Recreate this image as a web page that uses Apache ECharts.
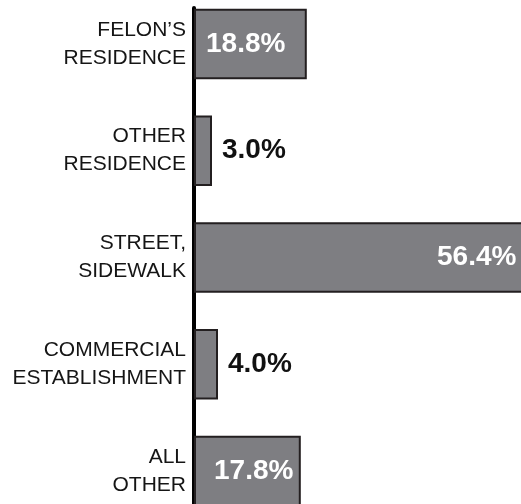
<!DOCTYPE html>
<html>
<head>
<meta charset="utf-8">
<style>
  html, body { margin: 0; padding: 0; background: #ffffff; }
  #chart { width: 521px; height: 504px; }
</style>
<script src="https://cdn.jsdelivr.net/npm/echarts@6/dist/echarts.min.js"></script>
</head>
<body>
<div id="chart"></div>
<script>
// Locations where the offense took place (share of cases, %)
const categories = [
  'FELON\u2019S\nRESIDENCE',
  'OTHER\nRESIDENCE',
  'STREET,\nSIDEWALK',
  'COMMERCIAL\nESTABLISHMENT',
  'ALL\nOTHER'
];
const shares = [18.8, 3.0, 56.4, 4.0, 17.8];

const FONT = '"Liberation Sans", Arial, Helvetica, sans-serif';

// Large bars carry their value inside in white, short bars get it to the right in black.
function valueLabel(v, i) {
  const base = {
    show: true,
    formatter: (p) => p.value.toFixed(1) + '%',
    fontFamily: FONT,
    fontWeight: 'bold',
    fontSize: 28,
    verticalAlign: 'middle'
  };
  if (v >= 50) return Object.assign(base, { position: 'insideRight', distance: 16, color: '#ffffff' });
  if (v >= 10) return Object.assign(base, { position: 'insideLeft', distance: i === 0 ? 12 : 20, color: '#ffffff' });
  return Object.assign(base, { position: 'right', distance: 10, color: '#111111' });
}

const seriesData = shares.map((v, i) => ({ value: v, label: valueLabel(v, i) }));

const chart = echarts.init(document.getElementById('chart'), null, { renderer: 'canvas' });
chart.setOption({
  backgroundColor: '#ffffff',
  animation: false,
  grid: [
    { left: 194, top: -9.5, height: 534, width: 360, outerBoundsMode: 'none', containLabel: false },
    { left: 194, top: 8, bottom: -10, width: 10, outerBoundsMode: 'none', containLabel: false }
  ],
  xAxis: [
    { gridIndex: 0, type: 'value', min: 0, max: 60, show: false },
    { gridIndex: 1, type: 'value', min: 0, max: 1, show: false }
  ],
  yAxis: [
    {
      gridIndex: 0,
      type: 'category',
      data: categories,
      inverse: true,
      axisLine: { show: false },
      axisTick: { show: false },
      splitLine: { show: false },
      axisLabel: {
        margin: 8,
        fontFamily: FONT,
        fontSize: 21,
        lineHeight: 28,
        color: '#151515',
        align: 'right'
      }
    },
    {
      gridIndex: 1,
      type: 'value',
      min: 0,
      max: 1,
      axisLine: { show: true, lineStyle: { color: '#000000', width: 4 } },
      axisTick: { show: false },
      axisLabel: { show: false },
      splitLine: { show: false }
    }
  ],
  series: [
    {
      type: 'bar',
      xAxisIndex: 0,
      yAxisIndex: 0,
      data: seriesData,
      barCategoryGap: '34%',
      itemStyle: {
        color: '#7e7e82',
        borderColor: '#231f20',
        borderWidth: 2
      },
      z: 1
    }
  ]
});
</script>
</body>
</html>
